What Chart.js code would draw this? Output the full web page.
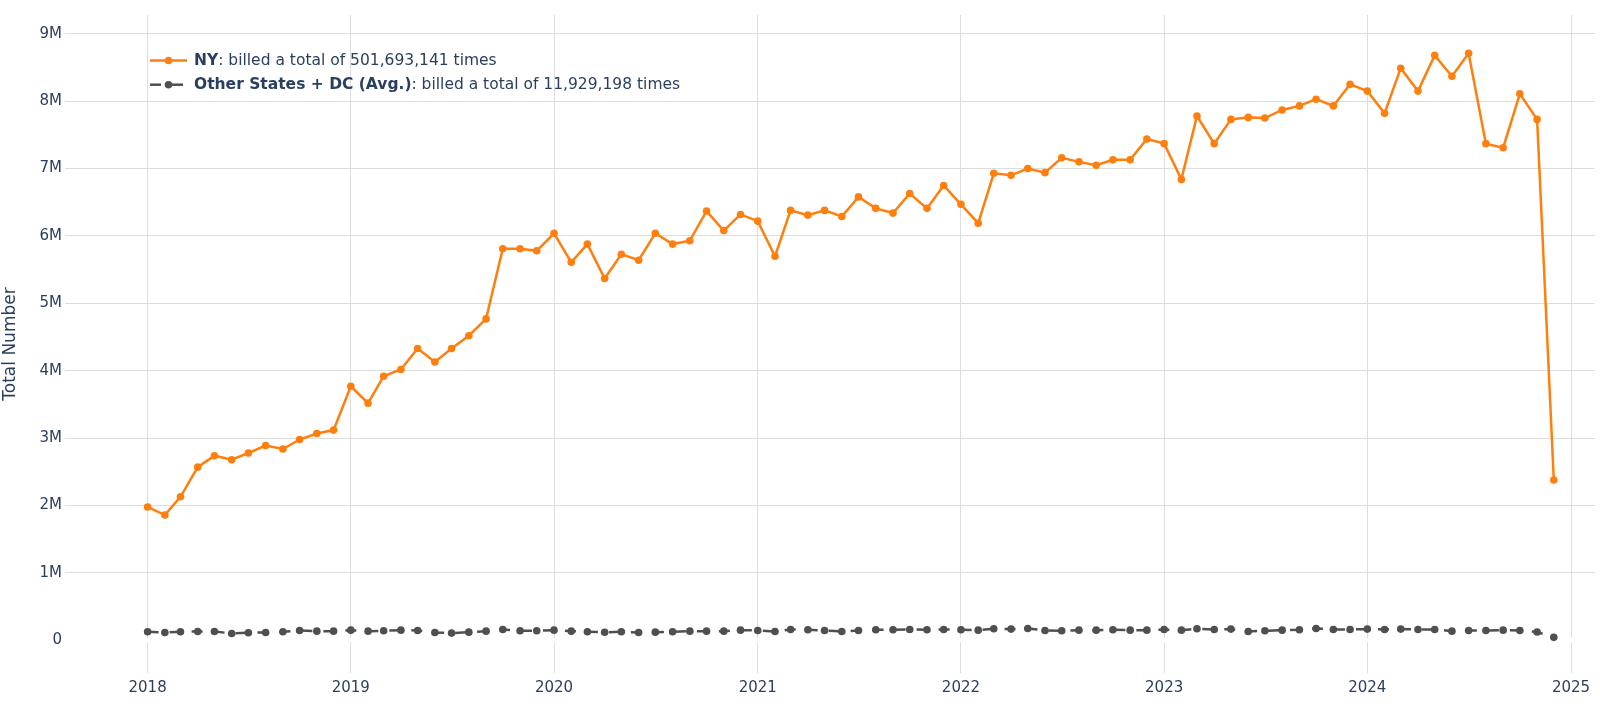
<!DOCTYPE html>
<html>
<head>
<meta charset="utf-8">
<script src="https://cdn.jsdelivr.net/npm/chart.js@4.4.1/dist/chart.umd.min.js"></script>
<style>
html,body{margin:0;padding:0;background:#ffffff;}
#wrap{position:relative;width:1600px;height:724px;}
</style>
</head>
<body>
<div id="wrap"><canvas id="c" width="1600" height="724"></canvas></div>
<script>
// ---- data ----
const months = [
 '2018-01','2018-02','2018-03','2018-04','2018-05','2018-06','2018-07','2018-08','2018-09','2018-10','2018-11','2018-12',
 '2019-01','2019-02','2019-03','2019-04','2019-05','2019-06','2019-07','2019-08','2019-09','2019-10','2019-11','2019-12',
 '2020-01','2020-02','2020-03','2020-04','2020-05','2020-06','2020-07','2020-08','2020-09','2020-10','2020-11','2020-12',
 '2021-01','2021-02','2021-03','2021-04','2021-05','2021-06','2021-07','2021-08','2021-09','2021-10','2021-11','2021-12',
 '2022-01','2022-02','2022-03','2022-04','2022-05','2022-06','2022-07','2022-08','2022-09','2022-10','2022-11','2022-12',
 '2023-01','2023-02','2023-03','2023-04','2023-05','2023-06','2023-07','2023-08','2023-09','2023-10','2023-11','2023-12',
 '2024-01','2024-02','2024-03','2024-04','2024-05','2024-06','2024-07','2024-08','2024-09','2024-10','2024-11','2024-12'
];
const nyValues = [
 1980000,1860000,2130000,2570000,2740000,2680000,2780000,2890000,2840000,2980000,3070000,3120000,
 3770000,3520000,3920000,4020000,4330000,4130000,4330000,4520000,4770000,5810000,5810000,5780000,
 6040000,5610000,5880000,5370000,5730000,5640000,6040000,5880000,5930000,6370000,6080000,6320000,
 6220000,5700000,6380000,6310000,6380000,6290000,6580000,6410000,6340000,6630000,6410000,6750000,
 6470000,6190000,6930000,6900000,7000000,6940000,7160000,7100000,7050000,7130000,7130000,7440000,
 7370000,6840000,7780000,7370000,7730000,7760000,7750000,7870000,7930000,8030000,7930000,8250000,
 8150000,7820000,8490000,8150000,8680000,8370000,8710000,7370000,7310000,8110000,7730000,2380000
];
const otherValues = [
 127000,117000,127000,132000,132000,103000,113000,117000,127000,147000,137000,137000,
 152000,137000,142000,152000,147000,117000,108000,122000,137000,162000,142000,142000,
 152000,137000,127000,120000,127000,117000,122000,127000,137000,137000,137000,152000,
 147000,132000,162000,157000,147000,132000,147000,157000,157000,162000,157000,162000,
 157000,152000,172000,167000,177000,147000,142000,152000,152000,157000,152000,152000,
 162000,152000,172000,162000,167000,132000,142000,152000,157000,177000,162000,162000,
 167000,162000,167000,162000,162000,137000,147000,147000,152000,147000,125000,45000
];
const seriesNames = ['NY', 'Other States + DC (Avg.)'];
const seriesTotals = ['501,693,141', '11,929,198'];
const seriesColors = ['#ff7f0e', '#4f4f4f'];
const yTickValues = [0,1000000,2000000,3000000,4000000,5000000,6000000,7000000,8000000,9000000];
const yTickLabels = ['0','1M','2M','3M','4M','5M','6M','7M','8M','9M'];
const xTickYears = [2018,2019,2020,2021,2022,2023,2024,2025];
const yTitle = 'Total Number';

// ---- helpers ----
function monthToMs(s){ const p = s.split('-'); return Date.UTC(+p[0], +p[1]-1, 1); }
const xMin = Date.UTC(2017,7,5) + 14*3600000;
const xMax = Date.UTC(2025,1,13);
const FONT = '"DejaVu Sans", Verdana, sans-serif';
const TXT = '#2a3f5f';

const legendPlugin = {
  id: 'plotlyLegend',
  afterDraw(chart){
    const ctx = chart.ctx;
    const rows = [60.5, 84.7];
    chart.data.datasets.forEach((ds, i) => {
      const y = rows[i];
      ctx.save();
      ctx.strokeStyle = ds.borderColor;
      ctx.lineWidth = ds.borderWidth;
      ctx.setLineDash(ds.borderDash || []);
      ctx.beginPath(); ctx.moveTo(150, y); ctx.lineTo(187, y); ctx.stroke();
      ctx.setLineDash([]);
      ctx.fillStyle = ds.pointBackgroundColor;
      ctx.beginPath(); ctx.arc(168.5, y, ds.pointRadius, 0, Math.PI*2); ctx.fill();
      ctx.textBaseline = 'middle';
      ctx.textAlign = 'left';
      ctx.fillStyle = TXT;
      ctx.font = 'bold 15.5px ' + FONT;
      const name = seriesNames[i];
      ctx.fillText(name, 194, y);
      const w = ctx.measureText(name).width;
      ctx.font = '15.5px ' + FONT;
      ctx.fillText(': billed a total of ' + seriesTotals[i] + ' times', 194 + w, y);
      ctx.restore();
    });
  }
};

const mk = (vals) => months.map((m, i) => ({x: monthToMs(m), y: vals[i]}));

new Chart(document.getElementById('c'), {
  type: 'line',
  data: {
    datasets: [
      {
        label: seriesNames[0], data: mk(nyValues),
        borderColor: seriesColors[0], backgroundColor: seriesColors[0],
        pointBackgroundColor: seriesColors[0], pointBorderColor: seriesColors[0],
        borderWidth: 2.5, pointRadius: 3.8, pointBorderWidth: 0, tension: 0, fill: false
      },
      {
        label: seriesNames[1], data: mk(otherValues),
        borderColor: seriesColors[1], backgroundColor: seriesColors[1],
        pointBackgroundColor: seriesColors[1], pointBorderColor: seriesColors[1],
        borderWidth: 2.5, borderDash: [11, 11], pointRadius: 3.8, pointBorderWidth: 0, tension: 0, fill: false
      }
    ]
  },
  options: {
    responsive: false, animation: false, devicePixelRatio: 1,
    layout: { padding: { top: 15, right: 5, left: 0, bottom: 0 } },
    plugins: { legend: { display: false }, tooltip: { enabled: false } },
    scales: {
      x: {
        type: 'linear', min: xMin, max: xMax,
        afterBuildTicks: (s) => { s.ticks = xTickYears.map(y => ({ value: Date.UTC(y, 0, 1) })); },
        afterFit: (s) => { s.height = 51; },
        ticks: {
          callback: (v) => String(new Date(v).getUTCFullYear()),
          color: TXT, font: { family: FONT, size: 15 }, padding: 6, maxRotation: 0, autoSkip: false
        },
        grid: { color: '#dddddd', lineWidth: 1, drawTicks: false, z: -2 },
        border: { display: false }
      },
      y: {
        type: 'linear', min: -484000, max: 9279000,
        afterBuildTicks: (s) => { s.ticks = yTickValues.map(v => ({ value: v })); },
        afterFit: (s) => { s.width = 65; },
        ticks: {
          callback: (v) => { const k = yTickValues.indexOf(v); return k >= 0 ? yTickLabels[k] : ''; },
          color: TXT, font: { family: FONT, size: 15 }, padding: 3, autoSkip: false
        },
        grid: {
          color: (c) => (c.tick && c.tick.value === 0) ? '#ffffff' : '#dddddd',
          lineWidth: (c) => (c.tick && c.tick.value === 0) ? 4 : 1,
          drawTicks: false, z: -1
        },
        border: { display: false },
        title: { display: true, text: yTitle, color: TXT, font: { family: FONT, size: 17 }, padding: { top: 0, bottom: 0 } }
      }
    }
  },
  plugins: [legendPlugin]
});
</script>
</body>
</html>
